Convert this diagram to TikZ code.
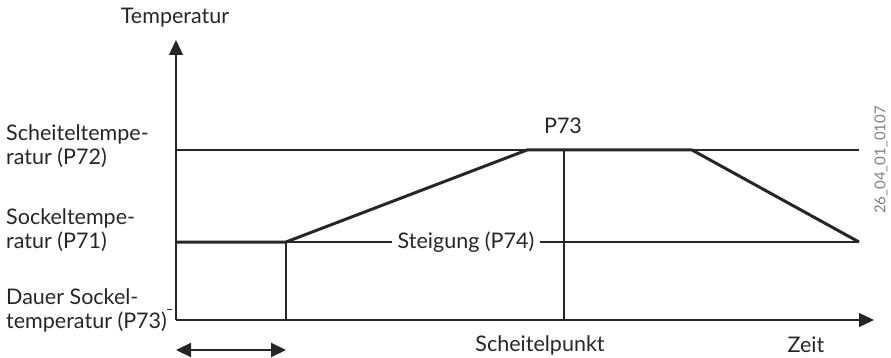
\documentclass[tikz,border=0pt]{standalone}
\usepackage{fontspec}
\setmainfont{Lato}
\usetikzlibrary{arrows.meta}
\begin{document}
\begin{tikzpicture}[x=1pt,y=-1pt,
  lbl/.style={font=\fontsize{21.5}{24}\selectfont, inner sep=0pt, text=black!85},
  thin line/.style={line width=1.2pt, draw=black!85},
  curve/.style={line width=3pt, draw=black!85, line join=round},
  axis/.style={line width=1.3pt, draw=black!85, -{Triangle[length=15pt,width=14pt]}}]
\useasboundingbox (0,0) rectangle (891,358);
% coordinates
\coordinate (O) at (176,320);
\coordinate (ytop) at (176,40);
\coordinate (xend) at (874,320);
\coordinate (S72l) at (176,150);
\coordinate (S72r) at (859,150);
\coordinate (S71l) at (176,242);
\coordinate (S71r) at (859,242);
\coordinate (A) at (286,242);
\coordinate (Ab) at (286,320);
\coordinate (B) at (527,150);
\coordinate (C) at (692,150);
\coordinate (M) at (564,150);
\coordinate (Mb) at (564,320);
\coordinate (da) at (176,350);
\coordinate (db) at (286,350);
\coordinate (t1) at (167,309);
\coordinate (t2) at (172,309);
% lines
\draw[thin line] (S72l) -- (S72r);
\draw[thin line] (S71l) -- (S71r);
\draw[thin line] (A) -- (Ab);
\draw[thin line] (M) -- (Mb);
\draw[line width=0.8pt, draw=black!85] (t1) -- (t2);
\draw[curve] (S71l) -- (A) -- (B) -- (C) -- (S71r);
\draw[axis] (O) -- (ytop);
\draw[axis] (O) -- (xend);
\draw[line width=2.2pt, draw=black!85, {Triangle[length=15pt,width=14pt]}-{Triangle[length=15pt,width=14pt]}] (da) -- (db);
% labels
\node[lbl, fill=white, inner xsep=6pt, inner ysep=2pt] (stg) at (466,242) {Steigung (P74)};
\node[lbl] (p73) at (563,126) {P73};
\node[lbl] (temp) at (175,18) {Temperatur};
\node[lbl] (sp) at (540,345) {Scheitelpunkt};
\node[lbl] (zeit) at (806,345) {Zeit};
\node[lbl, anchor=west, align=left] (l72) at (6,146) {Scheiteltempe-\\ratur (P72)};
\node[lbl, anchor=west, align=left] (l71) at (6,230) {Sockeltempe-\\ratur (P71)};
\node[lbl, anchor=west, align=left] (l73) at (6,310) {Dauer Sockel-\\temperatur (P73)};
\node[font=\fontsize{15}{17}\selectfont, text=black!50, rotate=90, inner sep=0pt] (code) at (881,160) {26\_04\_01\_0107};
\end{tikzpicture}
\end{document}
